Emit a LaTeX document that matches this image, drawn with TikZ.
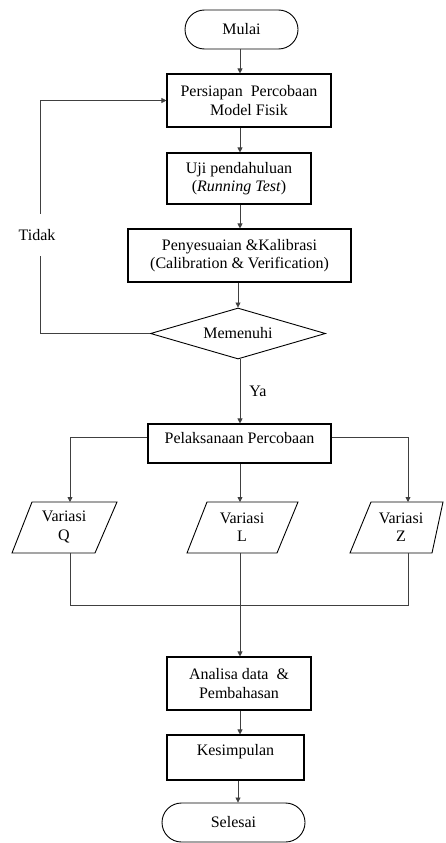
\documentclass[tikz,border=0pt]{standalone}
\usepackage{fontspec}
\setmainfont{Liberation Serif}
\usetikzlibrary{arrows.meta,shapes.geometric,shapes.misc}
\begin{document}
\begin{tikzpicture}[x=1pt,y=-1pt,
  every node/.style={font=\fontsize{16}{18.5}\selectfont, inner sep=0pt, align=center},
  boxnode/.style={draw, line width=1.1pt, minimum width=#1, rectangle},
  term/.style={draw, line width=0.9pt, rounded rectangle, minimum width=#1, minimum height=39pt},
  dec/.style={draw, line width=0.9pt, diamond, aspect=3.4, minimum width=175pt, minimum height=51pt},
  para/.style={line width=0.9pt},
  conn/.style={line width=0.8pt, draw=black!75, -{Triangle[length=5pt,width=5pt]}},
  plain/.style={line width=0.8pt, draw=black!75},
  lbl/.style={fill=white, inner sep=1pt}
]
\useasboundingbox (0,0) rectangle (446,843);

\node[term=113pt] (mulai) at (241.5,29.5) {Mulai};
\node[boxnode=164pt, minimum height=53pt] (persiapan) at (249,100.5) {Persiapan\ \ Percobaan\\Model Fisik};
\node[boxnode=144pt, minimum height=51pt] (uji) at (239,178.5) {Uji pendahuluan\\(\textit{Running Test})};
\node[boxnode=223pt, minimum height=53pt] (kalib) at (239.5,255.5) {Penyesuaian \&Kalibrasi\\(Calibration \& Verification)};
\node[dec] (memenuhi) at (238,333.5) {Memenuhi};
\node[boxnode=183pt, minimum height=39pt, text depth=12pt] (pelaks) at (239.5,443.5) {Pelaksanaan Percobaan};

% parallelograms
\draw[para] (32,502) -- (117,502) -- (95,553) -- (12,553) -- cycle;
\draw[para] (207,502) -- (298,502) -- (277,553) -- (187,553) -- cycle;
\draw[para] (371,502) -- (443,502) -- (432,553) -- (350,553) -- cycle;
\node (vq) at (64,527) {Variasi\\Q};
\node (vl) at (242,527) {Variasi\\L};
\node (vz) at (401,527) {Variasi\\Z};
\coordinate (qtop) at (70,502);
\coordinate (ltop) at (240,502);
\coordinate (ztop) at (408,502);
\coordinate (qbot) at (70,553);
\coordinate (lbot) at (240,553);
\coordinate (zbot) at (408,553);

\node[boxnode=144pt, minimum height=53pt] (analisa) at (239,683.5) {Analisa data\ \ \&\\Pembahasan};
\node[boxnode=137pt, minimum height=45pt, text depth=16pt] (kesimpulan) at (235.5,757.5) {Kesimpulan};
\node[term=143pt] (selesai) at (233.5,822.5) {Selesai};

% connectors
\draw[conn] (mulai.south -| 240,0) -- (persiapan.north -| 240,0);
\draw[conn] (persiapan.south -| 240,0) -- (uji.north -| 240,0);
\draw[conn] (uji.south -| 240,0) -- (kalib.north -| 240,0);
\draw[conn] (kalib.south -| 238,0) -- (memenuhi.north);
\draw[conn] (memenuhi.south -| 240,0) -- node[right=8pt, lbl, pos=0.5] (ya) {Ya} (pelaks.north -| 240,0);
\draw[conn] (memenuhi.west) -- (40,333.5) -- (40,100.5) -- (persiapan.west);
\node[lbl, inner ysep=15pt] (tidak) at (37,235) {Tidak};

\draw[conn] (pelaks.west |- 0,437) -- (70,437) -- (qtop);
\draw[conn] (pelaks.east |- 0,437) -- (408,437) -- (ztop);
\draw[conn] (pelaks.south -| 240,0) -- (ltop);

\draw[plain] (qbot) -- (70,605) -- (408,605) -- (zbot);
\draw[conn] (lbot) -- (analisa.north -| 240,0);
\draw[conn] (analisa.south -| 240,0) -- (kesimpulan.north -| 240,0);
\draw[conn] (kesimpulan.south -| 238,0) -- (selesai.north -| 238,0);
\end{tikzpicture}
\end{document}
